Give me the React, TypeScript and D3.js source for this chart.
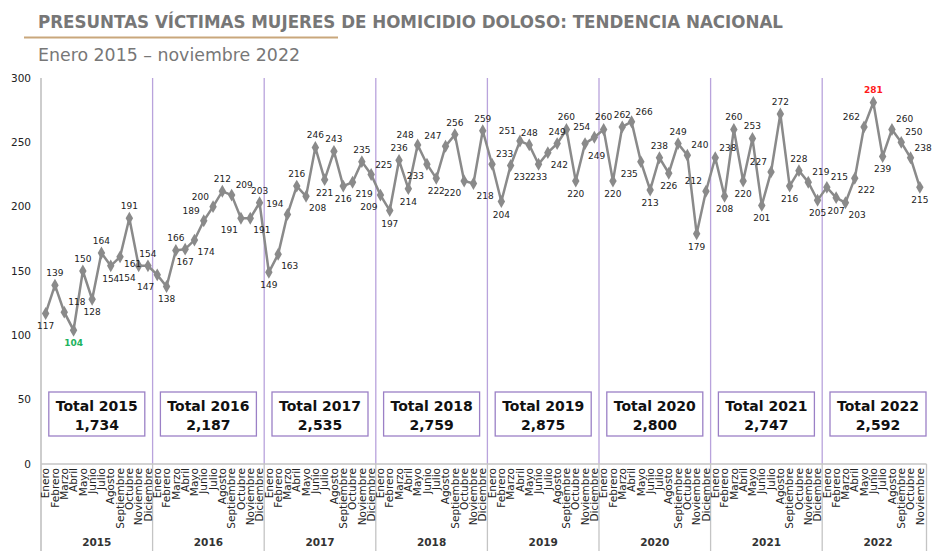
import React, { useEffect, useRef } from 'react';
import * as d3 from 'd3';

const years = ['2015', '2016', '2017', '2018', '2019', '2020', '2021', '2022'];
const months = ['Enero', 'Febrero', 'Marzo', 'Abril', 'Mayo', 'Junio', 'Julio', 'Agosto', 'Septiembre', 'Octubre', 'Noviembre', 'Diciembre'];

const v2015 = [117, 139, 118, 104, 150, 128, 164, 154, 161, 191, 154, 154];
const v2016 = [147, 138, 166, 167, 174, 189, 200, 212, 209, 191, 191, 203];
const v2017 = [149, 163, 194, 216, 208, 246, 221, 243, 216, 219, 235, 225];
const v2018 = [209, 197, 236, 214, 248, 233, 222, 247, 256, 220, 218, 259];
const v2019 = [233, 204, 232, 251, 248, 233, 242, 249, 260, 220, 249, 254];
const v2020 = [260, 220, 262, 266, 235, 213, 238, 226, 249, 240, 179, 212];
const v2021 = [238, 208, 260, 220, 253, 201, 227, 272, 216, 228, 219, 205];
const v2022 = [215, 207, 203, 222, 262, 281, 239, 260, 250, 238, 215];

const totals = ['1,734', '2,187', '2,535', '2,759', '2,875', '2,800', '2,747', '2,592'];
const yTicks = [0, 50, 100, 150, 200, 250, 300];

const minLabel = 104; // shown in green
const maxLabel = 281; // shown in red

// where each value label sits: a above, b below, l/r above-left/right, L/R below-left/right, S beside right
const labelSide = [
    'b a r b a b a b S a L a',
    'L b a b R l l a r L R a',
    'b R l a R a b a b R a r',
    'L b a b l L b l a L R a',
    'r b R l a b R a a b R l',
    'a b a r L b a b a r b l',
    'r b a b a b l a b a r b',
    'r b R R l a b r r r b',
].join(' ').split(' ');

function App() {
    const ref = useRef(null);

    const width = 932;
    const height = 551;
    const marginLeft = 41;
    const top = 78;
    const base = 464;
    const font = "'DejaVu Sans', sans-serif";

    useEffect(() => {
        const yearValues = [v2015, v2016, v2017, v2018, v2019, v2020, v2021, v2022];
        const data = [];
        yearValues.forEach((vals, yi) => {
            vals.forEach((v, mi) => data.push({ key: `${years[yi]}-${mi}`, year: years[yi], month: months[mi], value: v }));
        });
        // full set of slots (incl. the empty Dec 2022) so every year gets the same width
        const slots = years.flatMap(y => months.map((m, mi) => `${y}-${mi}`));

        const x = d3.scaleBand()
            .domain(slots)
            .range([marginLeft, marginLeft + 96 * 9.3])
            .padding(0);

        const y = d3.scaleLinear()
            .domain([0, 300])
            .range([base, top]);

        const svg = d3.select(ref.current)
            .attr('width', width)
            .attr('height', height)
            .attr('viewBox', [0, 0, width, height])
            .style('font-family', font);

        svg.selectAll('*').remove();

        // titles
        svg.append('text')
            .attr('x', 38).attr('y', 28)
            .attr('fill', '#777')
            .attr('font-size', 17)
            .attr('font-weight', 'bold')
            .attr('textLength', 745)
            .attr('lengthAdjust', 'spacingAndGlyphs')
            .text('PRESUNTAS VÍCTIMAS MUJERES DE HOMICIDIO DOLOSO: TENDENCIA NACIONAL');

        svg.append('line')
            .attr('x1', 24).attr('x2', 338)
            .attr('y1', 37.5).attr('y2', 37.5)
            .attr('stroke', '#c9a77c')
            .attr('stroke-width', 2);

        svg.append('text')
            .attr('x', 38).attr('y', 61)
            .attr('fill', '#777')
            .attr('font-size', 17)
            .attr('textLength', 262)
            .attr('lengthAdjust', 'spacingAndGlyphs')
            .text('Enero 2015 – noviembre 2022');

        const xEnd = x('2022-10') + x.bandwidth() + 2;
        const yearStart = yr => x(`${yr}-0`);

        // y axis
        svg.append('g')
            .selectAll('text')
            .data(yTicks)
            .join('text')
            .attr('x', 31)
            .attr('y', d => y(d))
            .attr('dy', '0.35em')
            .attr('text-anchor', 'end')
            .attr('font-size', 10.5)
            .attr('fill', '#222')
            .text(d => d);

        svg.append('line')
            .attr('x1', marginLeft).attr('x2', marginLeft)
            .attr('y1', top).attr('y2', height)
            .attr('stroke', '#bdbdbd').attr('stroke-width', 1.5);

        // year separators: purple inside plot, gray below the axis
        const seps = years.slice(1).map(yearStart);
        svg.append('g')
            .selectAll('line')
            .data(seps)
            .join('line')
            .attr('x1', d => d).attr('x2', d => d)
            .attr('y1', top).attr('y2', base)
            .attr('stroke', '#b9a3dc').attr('stroke-width', 1.3);

        svg.append('g')
            .selectAll('line')
            .data([...seps, xEnd])
            .join('line')
            .attr('x1', d => d).attr('x2', d => d)
            .attr('y1', base).attr('y2', height)
            .attr('stroke', '#c4c4c4').attr('stroke-width', 1.3);

        svg.append('line')
            .attr('x1', marginLeft).attr('x2', xEnd)
            .attr('y1', base).attr('y2', base)
            .attr('stroke', '#c4c4c4').attr('stroke-width', 1.3);

        // month labels
        svg.append('g')
            .selectAll('text')
            .data(data)
            .join('text')
            .attr('transform', d => `translate(${x(d.key) + x.bandwidth() / 2},${base + 4}) rotate(-90)`)
            .attr('dy', '0.35em')
            .attr('text-anchor', 'end')
            .attr('font-size', 10.5)
            .attr('fill', '#222')
            .text(d => d.month);

        // year labels
        svg.append('g')
            .selectAll('text')
            .data(years)
            .join('text')
            .attr('x', d => yearStart(d) + 6 * x.bandwidth())
            .attr('y', 546)
            .attr('text-anchor', 'middle')
            .attr('font-size', 10.5)
            .attr('font-weight', 'bold')
            .attr('fill', '#333')
            .text(d => d);

        // totals boxes
        const boxes = svg.append('g')
            .selectAll('g')
            .data(years)
            .join('g')
            .attr('transform', d => `translate(${yearStart(d) + 6 * x.bandwidth()},0)`);

        boxes.append('rect')
            .attr('x', -48).attr('y', 392)
            .attr('width', 96).attr('height', 44)
            .attr('fill', '#fff')
            .attr('stroke', '#9b80c6').attr('stroke-width', 1.3);

        boxes.append('text')
            .attr('y', 411)
            .attr('text-anchor', 'middle')
            .attr('font-size', 14)
            .attr('font-weight', 'bold')
            .attr('fill', '#111')
            .text(d => `Total ${d}`);

        boxes.append('text')
            .attr('y', 430)
            .attr('text-anchor', 'middle')
            .attr('font-size', 14)
            .attr('font-weight', 'bold')
            .attr('fill', '#111')
            .text((d, i) => totals[i]);

        // line + markers
        const cx = d => x(d.key) + x.bandwidth() / 2;
        const line = d3.line()
            .x(cx)
            .y(d => y(d.value));

        svg.append('path')
            .attr('fill', 'none')
            .attr('stroke', '#8a8a8a')
            .attr('stroke-width', 2.5)
            .attr('d', line(data));

        svg.append('g')
            .selectAll('path')
            .data(data)
            .join('path')
            .attr('transform', d => `translate(${cx(d)},${y(d.value)})`)
            .attr('d', d3.symbol(d3.symbolDiamond, 48))
            .attr('fill', '#8a8a8a');

        const offsets = {
            a: { dx: 0, dy: -9, anchor: 'middle' },
            b: { dx: 0, dy: 16, anchor: 'middle' },
            l: { dx: -4, dy: -7, anchor: 'end' },
            r: { dx: 4, dy: -7, anchor: 'start' },
            L: { dx: -3, dy: 15, anchor: 'end' },
            R: { dx: 3, dy: 15, anchor: 'start' },
            S: { dx: 4, dy: 10, anchor: 'start' },
        };

        svg.append('g')
            .selectAll('text')
            .data(data)
            .join('text')
            .each(function (d, i) {
                const p = offsets[labelSide[i]] || offsets.a;
                d3.select(this)
                    .attr('x', cx(d) + p.dx)
                    .attr('y', y(d.value) + p.dy)
                    .attr('text-anchor', p.anchor);
            })
            .attr('font-size', 9)
            .attr('font-weight', d => (d.value === minLabel || d.value === maxLabel) ? 'bold' : 'normal')
            .attr('fill', d => d.value === minLabel ? '#22b35e' : d.value === maxLabel ? '#ff1a1a' : '#222')
            .text(d => d.value);

    }, []);

    return (
        <div>
            <svg ref={ref} style={{ display: 'block', position: 'absolute', left: 0, top: 0 }}></svg>
        </div>
    );
}

export default App;
